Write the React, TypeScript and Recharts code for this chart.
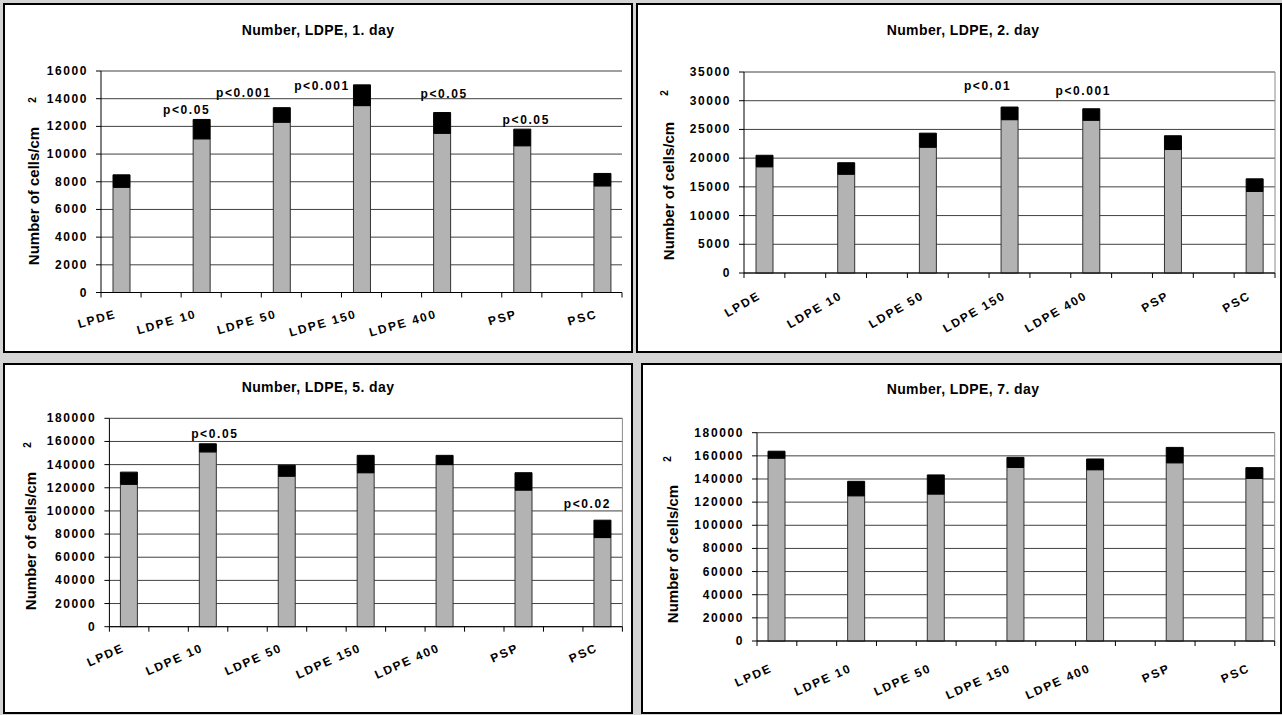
import React from 'react';
import { BarChart, Bar, XAxis, YAxis, CartesianGrid, LabelList } from 'recharts';

// ---------- data ----------
const groups = ['LPDE', 'LDPE 10', 'LDPE 50', 'LDPE 150', 'LDPE 400', 'PSP', 'PSC'];

const day1Mean = [7600, 11100, 12300, 13500, 11500, 10600, 7700];
const day1Sd = [900, 1400, 1050, 1500, 1500, 1200, 900];
const day1P = ['', 'p<0.05', 'p<0.001', 'p<0.001', 'p<0.05', 'p<0.05', ''];
const day1Ticks = [0, 2000, 4000, 6000, 8000, 10000, 12000, 14000, 16000];

const day2Mean = [18500, 17200, 21900, 26700, 26600, 21500, 14200];
const day2Sd = [2000, 2000, 2450, 2200, 2000, 2400, 2200];
const day2P = ['', '', '', 'p<0.01', 'p<0.001', '', ''];
const day2Ticks = [0, 5000, 10000, 15000, 20000, 25000, 30000, 35000];

const day5Mean = [123000, 151000, 130000, 133000, 140000, 118000, 77000];
const day5Sd = [10500, 7000, 9500, 15000, 8000, 15000, 15000];
const day5P = ['', 'p<0.05', '', '', '', '', 'p<0.02'];
const day5Ticks = [0, 20000, 40000, 60000, 80000, 100000, 120000, 140000, 160000, 180000];

const day7Mean = [158000, 125500, 127000, 150000, 148000, 154000, 140500];
const day7Sd = [6000, 12500, 16500, 8700, 9300, 13300, 9300];
const day7P = ['', '', '', '', '', '', ''];
const day7Ticks = [0, 20000, 40000, 60000, 80000, 100000, 120000, 140000, 160000, 180000];

const yLabel = 'Number of cells/cm';
const yLabelSup = '2';

// Build the 13-slot category table (the original chart has blank categories between groups)
function buildRows(mean: number[], sd: number[], p: string[]) {
  const rows: any[] = [];
  groups.forEach((g, i) => {
    rows.push({ name: g, mean: mean[i], sd: sd[i], pk: p[i] ? i : null, p: p[i] });
    if (i < groups.length - 1) rows.push({ name: '', mean: null, sd: null, pk: null, p: '' });
  });
  return rows;
}

// ---------- layout / style ----------
const FONT = '"Liberation Sans", Arial, Helvetica, sans-serif';
const GRAY = '#b3b3b3';

type Cfg = {
  title: string;
  left: number; top: number; width: number; height: number;
  plotLeft: number; plotRight: number; plotTop: number; plotBottom: number;
  angle: number; ldx: number; ldy: number;
  frame: boolean;
  titleX: number; titleY: number;
  ylX: number; ylY: number; supX: number; supY: number;
  pOff: Record<number, [number, number]>;
};

const panels: Cfg[] = [
  {
    title: 'Number, LDPE, 1. day',
    left: 3, top: 3, width: 630, height: 350,
    plotLeft: 101, plotRight: 622, plotTop: 71, plotBottom: 292.5,
    angle: -16, ldx: -4, ldy: 25, frame: false,
    titleX: 318, titleY: 35, ylX: 34, ylY: 196, supX: 33, supY: 100,
    pOff: { 1: [-15, 5], 2: [-38, 11], 3: [-40, -5], 4: [2, 15], 5: [4, 5] },
  },
  {
    title: 'Number, LDPE, 2. day',
    left: 636, top: 3, width: 646, height: 350,
    plotLeft: 744, plotRight: 1275, plotTop: 72, plotBottom: 273,
    angle: -30, ldx: -3, ldy: 25, frame: true,
    titleX: 963, titleY: 35, ylX: 669, ylY: 191, supX: 665, supY: 93,
    pOff: { 3: [-22, 17], 4: [-8, 14] },
  },
  {
    title: 'Number, LDPE, 5. day',
    left: 3, top: 363, width: 630, height: 351,
    plotLeft: 109.4, plotRight: 622.4, plotTop: 418.3, plotBottom: 626.7,
    angle: -24, ldx: -4, ldy: 24, frame: true,
    titleX: 318, titleY: 392, ylX: 31, ylY: 541, supX: 28, supY: 445,
    pOff: { 1: [7, 6], 6: [-15, 12] },
  },
  {
    title: 'Number, LDPE, 7. day',
    left: 641, top: 363, width: 641, height: 351,
    plotLeft: 757, plotRight: 1274.7, plotTop: 432.7, plotBottom: 641,
    angle: -24, ldx: -4, ldy: 30, frame: true,
    titleX: 963, titleY: 394, ylX: 673, ylY: 554, supX: 668, supY: 459,
    pOff: {},
  },
];

const datasets = [
  { rows: buildRows(day1Mean, day1Sd, day1P), ticks: day1Ticks },
  { rows: buildRows(day2Mean, day2Sd, day2P), ticks: day2Ticks },
  { rows: buildRows(day5Mean, day5Sd, day5P), ticks: day5Ticks },
  { rows: buildRows(day7Mean, day7Sd, day7P), ticks: day7Ticks },
];

function Panel({ cfg, rows, ticks, pTexts }: { cfg: Cfg; rows: any[]; ticks: number[]; pTexts: string[] }) {
  const yAxisW = 60;
  const xAxisH = 40;
  const margin = {
    top: cfg.plotTop - cfg.top,
    left: cfg.plotLeft - cfg.left - yAxisW,
    right: cfg.left + cfg.width - cfg.plotRight,
    bottom: cfg.top + cfg.height - cfg.plotBottom - xAxisH,
  };
  const half = (cfg.plotRight - cfg.plotLeft) / rows.length / 2;
  const last = rows.length - 1;

  const xTick = (props: any) => {
    const { x, y, payload, index } = props;
    const lx = x + cfg.ldx;
    const ly = y + cfg.ldy;
    return (
      <g>
        <line x1={x - half} y1={y} x2={x - half} y2={y + 5} stroke="#000" strokeWidth={1} />
        {index === last && <line x1={x + half} y1={y} x2={x + half} y2={y + 5} stroke="#000" strokeWidth={1} />}
        {payload.value ? (
          <text
            x={lx}
            y={ly}
            textAnchor="end"
            transform={`rotate(${cfg.angle}, ${lx}, ${ly})`}
            fontFamily={FONT}
            fontWeight="bold"
            fontSize={12}
            letterSpacing={1.8}
            fill="#000"
          >
            {payload.value}
          </text>
        ) : null}
      </g>
    );
  };

  const yTick = (props: any) => {
    const { x, y, payload } = props;
    return (
      <text x={x} y={y} dy={4} textAnchor="end" fontFamily={FONT} fontWeight="bold" fontSize={12} letterSpacing={1.6} fill="#000">
        {payload.value}
      </text>
    );
  };

  const pLabel = (props: any) => {
    const { x, y, width, value } = props;
    if (value == null || x == null) return null;
    const text = pTexts[value];
    if (!text) return null;
    const off = cfg.pOff[value] || [0, 6];
    return (
      <text
        x={x + width / 2 + off[0]}
        y={y - off[1]}
        textAnchor="middle"
        fontFamily={FONT}
        fontWeight="bold"
        fontSize={12}
        letterSpacing={1.6}
        fill="#000"
      >
        {text}
      </text>
    );
  };

  return (
    <div
      style={{
        position: 'absolute',
        left: cfg.left,
        top: cfg.top,
        width: cfg.width,
        height: cfg.height,
        background: '#fff',
        border: '2px solid #000',
        boxSizing: 'border-box',
      }}
    >
      <div style={{ position: 'absolute', left: -2, top: -2, width: cfg.width, height: cfg.height }}>
        <BarChart width={cfg.width} height={cfg.height} data={rows} margin={margin} barSize={17}>
          <CartesianGrid vertical={false} stroke="#404040" />
          {cfg.frame && (
            <CartesianGrid
              horizontal={false}
              stroke="#8a8a8a"
              verticalCoordinatesGenerator={({ offset }: any) => [offset.left + offset.width]}
            />
          )}
          <XAxis
            dataKey="name"
            interval={0}
            height={xAxisH}
            tick={xTick}
            tickLine={false}
            tickSize={0}
            tickMargin={0}
            axisLine={{ stroke: '#000' }}
          />
          <YAxis
            type="number"
            domain={[0, ticks[ticks.length - 1]]}
            ticks={ticks}
            interval={0}
            width={yAxisW}
            tick={yTick}
            tickSize={5}
            tickMargin={8}
            tickLine={{ stroke: '#000' }}
            axisLine={{ stroke: '#000' }}
          />
          <Bar dataKey="mean" stackId="s" fill={GRAY} stroke="#333" strokeWidth={1} isAnimationActive={false} />
          <Bar dataKey="sd" stackId="s" fill="#000" stroke="#000" strokeWidth={1} isAnimationActive={false}>
            <LabelList dataKey="pk" content={pLabel} />
          </Bar>
        </BarChart>
        <div
          style={{
            position: 'absolute',
            left: cfg.titleX - cfg.left,
            top: cfg.titleY - cfg.top - 12,
            transform: 'translateX(-50%)',
            whiteSpace: 'nowrap',
            fontFamily: FONT,
            fontWeight: 'bold',
            fontSize: 14,
            lineHeight: '14px',
            letterSpacing: 0.4,
          }}
        >
          {cfg.title}
        </div>
        <div
          style={{
            position: 'absolute',
            left: cfg.ylX - cfg.left,
            top: cfg.ylY - cfg.top,
            transform: 'translate(-50%, -50%) rotate(-90deg)',
            whiteSpace: 'nowrap',
            fontFamily: FONT,
            fontWeight: 'bold',
            fontSize: 15,
            lineHeight: '16px',
          }}
        >
          {yLabel}
        </div>
        <div
          style={{
            position: 'absolute',
            left: cfg.supX - cfg.left,
            top: cfg.supY - cfg.top,
            transform: 'translate(-50%, -50%) rotate(-90deg)',
            whiteSpace: 'nowrap',
            fontFamily: FONT,
            fontWeight: 'bold',
            fontSize: 10,
            lineHeight: '10px',
          }}
        >
          {yLabelSup}
        </div>
      </div>
    </div>
  );
}

const pTextSets = [day1P, day2P, day5P, day7P];

export default function App() {
  return (
    <div style={{ position: 'relative', width: 1282, height: 715, background: '#d4d4d4', overflow: 'hidden' }}>
      <style>{'body{margin:0;}'}</style>
      {panels.map((cfg, i) => (
        <Panel key={i} cfg={cfg} rows={datasets[i].rows} ticks={datasets[i].ticks} pTexts={pTextSets[i]} />
      ))}
    </div>
  );
}
